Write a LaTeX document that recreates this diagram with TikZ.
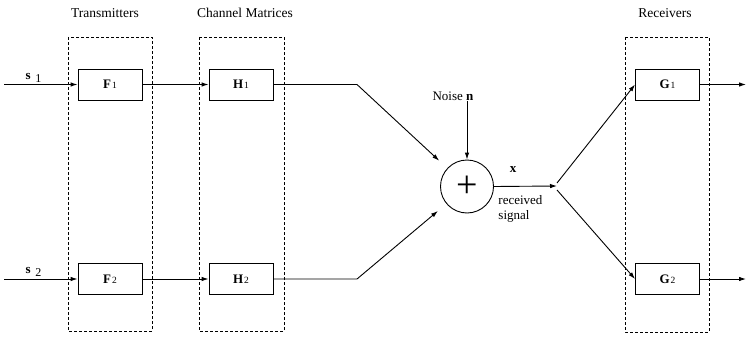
\documentclass[tikz,border=0pt]{standalone}
\usepackage{fontspec}
\setmainfont{Liberation Serif}
\usetikzlibrary{arrows.meta,calc}
\begin{document}
\begin{tikzpicture}[x=1pt,y=-1pt,
  line width=0.9pt,
  arr/.style={-{Latex[length=7pt,width=4.5pt]}},
  blk/.style={draw,minimum width=64pt,minimum height=31pt,inner sep=0pt,font=\fontsize{13}{13}\selectfont},
  grp/.style={draw,dashed,dash pattern=on 3pt off 2pt},
  ttl/.style={font=\fontsize{13.5}{13.5}\selectfont},
  lbl/.style={font=\fontsize{13}{15}\selectfont,inner sep=0pt}]
\useasboundingbox (0,0) rectangle (746,337);
% group boxes
\draw[grp] (68,37) rectangle (152,331);
\draw[grp] (199,37) rectangle (284,331);
\draw[grp] (625,37) rectangle (709,332);
% titles
\node[ttl] (tT) at (105,13) {Transmitters};
\node[ttl] (tC) at (245,13) {Channel Matrices};
\node[ttl] (tR) at (665,13) {Receivers};
% blocks
\newcommand{\blab}[2]{\textbf{#1}\hspace{1pt}{\fontsize{9.5}{9.5}\selectfont #2}}
\node[blk] (F1) at (110,84.5) {\blab{F}{1}};
\node[blk] (F2) at (110,279) {\blab{F}{2}};
\node[blk] (H1) at (241,84.5) {\blab{H}{1}};
\node[blk] (H2) at (241,279) {\blab{H}{2}};
\node[blk] (G1) at (667.5,84.5) {\blab{G}{1}};
\node[blk] (G2) at (667.5,279) {\blab{G}{2}};
\node[draw,circle,minimum size=53pt,inner sep=0pt,font=\fontsize{38}{38}\selectfont] (sum) at (467,186.5) {+};
% coordinates
\coordinate (in1) at (4,84.5);
\coordinate (in2) at (4,279);
\coordinate (b1) at (357,84.5);
\coordinate (b2) at (357,279);
\coordinate (split) at (557,186);
\coordinate (sa) at (557,183);
\coordinate (sb) at (557,190);
\coordinate (out1) at (746,84.5);
\coordinate (out2) at (746,279);
% labels
\newcommand{\slab}[1]{\textbf{s}\hspace{4.5pt}\raisebox{-3pt}{\fontsize{12}{12}\selectfont #1}}
\node[lbl] (s1) at (33.5,78) {\slab{1}};
\node[lbl] (s2) at (33.5,272) {\slab{2}};
\node[lbl] (noise) at (453,96) {Noise \textbf{n}};
\node[lbl] (xl) at (513,170) {\textbf{x}};
\node[lbl,align=left,anchor=north west,font=\fontsize{13}{15}\selectfont] (rs) at (498,195) {received\\signal};
% connectors
\draw[arr] (in1) -- (F1.west);
\draw[arr] (in2) -- (F2.west);
\draw[arr] (F1.east) -- (H1.west);
\draw[arr] (F2.east) -- (H2.west);
\draw[arr,shorten >=11pt] (H1.east) -- (b1) -- (sum);
\draw[arr,shorten >=11pt] (H2.east) -- (b2) -- (sum);
\draw[arr] (noise.south -| sum.north) -- (sum.north);
\draw[arr] (sum.east) -- (split);
\draw[arr] (sa) -- (G1.west);
\draw[arr] (sb) -- (G2.west);
\draw[arr] (G1.east) -- (out1);
\draw[arr] (G2.east) -- (out2);
\end{tikzpicture}
\end{document}
